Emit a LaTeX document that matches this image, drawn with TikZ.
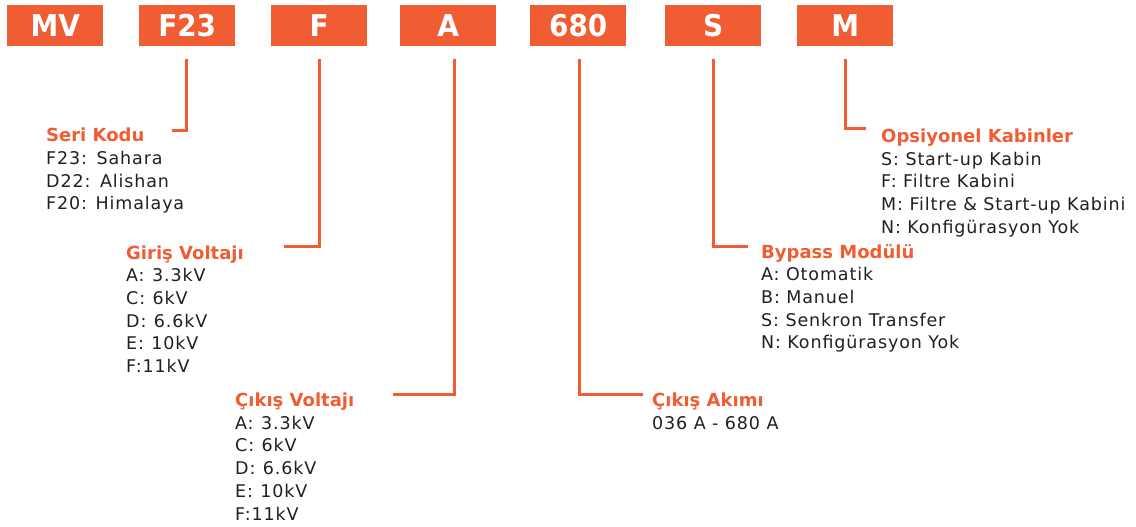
\documentclass[tikz,border=0pt]{standalone}
\usepackage{fontspec}
\setmainfont{DejaVu Sans}[LetterSpace=5]
\newfontfamily\boxfont{DejaVu Sans}[FakeStretch=0.93]
\newfontfamily\ttlfont{DejaVu Sans}
\definecolor{org}{HTML}{F15D33}
\definecolor{txt}{HTML}{231F20}
\tikzset{
  codebox/.style={fill=org, anchor=north west, minimum width=96pt, minimum height=41pt, inner sep=0pt, text=white, font=\boxfont\bfseries\fontsize{30}{32}\selectfont},
  conn/.style={draw=org, line width=3pt},
  ttl/.style={anchor=base west, inner sep=0pt, text=org, font=\ttlfont\bfseries\fontsize{18}{20}\selectfont},
  itm/.style={anchor=base west, inner sep=0pt, text=txt, font=\fontsize{17.5}{20}\selectfont},
}
\newcommand{\gp}{\hspace{1pt}}
\begin{document}
\begin{tikzpicture}[x=1pt,y=-1pt]
\useasboundingbox (0,0) rectangle (1136,527);
% code boxes
\node[codebox] (mv)  at (7,5)   {MV};
\node[codebox] (f23) at (139,5) {F23};
\node[codebox] (f)   at (271,5) {F};
\node[codebox] (a)   at (400,5) {A};
\node[codebox] (amp) at (530,5) {680};
\node[codebox] (s)   at (665,5) {S};
\node[codebox] (m)   at (797,5) {M};
% end coordinates of connectors
\coordinate (e1) at (172,130);
\coordinate (e2) at (284,246);
\coordinate (e3) at (393,394);
\coordinate (e4) at (643,394);
\coordinate (e5) at (748,246);
\coordinate (e6) at (866,128);
\draw[conn] ([xshift=-1pt,yshift=-13pt]f23.south) |- (e1);
\draw[conn] ([xshift=0pt,yshift=-13pt]f.south) |- (e2);
\draw[conn] ([xshift=6pt,yshift=-13pt]a.south) |- (e3);
\draw[conn] ([xshift=1pt,yshift=-13pt]amp.south) |- (e4);
\draw[conn] ([xshift=0pt,yshift=-13pt]s.south) |- (e5);
\draw[conn] ([xshift=0pt,yshift=-13pt]m.south) |- (e6);
% Seri Kodu
\node[ttl] (t1) at (46,141.7) {Seri Kodu};
\node[itm] (t1a) at (46,164.4) {F23:\gp{} Sahara};
\node[itm] (t1b) at (46,187.1) {D22:\gp{} Alishan};
\node[itm] (t1c) at (46,209.8) {F20: Himalaya};
% Giris Voltaji
\node[ttl] (t2) at (126,259) {Giriş Voltajı};
\node[itm] (t2a) at (126,281.7) {A:\gp{} 3.3kV};
\node[itm] (t2b) at (126,304.4) {C:\gp{} 6kV};
\node[itm] (t2c) at (126,327.1) {D:\gp{} 6.6kV};
\node[itm] (t2d) at (126,349.8) {E:\gp{} 10kV};
\node[itm] (t2e) at (126,372.5) {F:11kV};
% Cikis Voltaji
\node[ttl] (t3) at (235,406.5) {Çıkış Voltajı};
\node[itm] (t3a) at (235,429.2) {A:\gp{} 3.3kV};
\node[itm] (t3b) at (235,451.9) {C:\gp{} 6kV};
\node[itm] (t3c) at (235,474.6) {D:\gp{} 6.6kV};
\node[itm] (t3d) at (235,497.3) {E:\gp{} 10kV};
\node[itm] (t3e) at (235,520) {F:11kV};
% Cikis Akimi
\node[ttl] (t4) at (652,406.5) {Çıkış Akımı};
\node[itm] (t4a) at (652,429.2) {036 A - 680 A};
% Bypass
\node[ttl] (t5) at (761,258) {Bypass Modülü};
\node[itm] (t5a) at (761,280.7) {A: Otomatik};
\node[itm] (t5b) at (761,303.4) {B: Manuel};
\node[itm] (t5c) at (761,326.1) {S: Senkron Transfer};
\node[itm] (t5d) at (761,348.8) {N: Konfigürasyon Yok};
% Opsiyonel
\node[ttl] (t6) at (881,142.3) {Opsiyonel Kabinler};
\node[itm] (t6a) at (881,165) {S: Start-up Kabin};
\node[itm] (t6b) at (881,187.7) {F: Filtre Kabini};
\node[itm] (t6c) at (881,210.4) {M: Filtre \& Start-up Kabini};
\node[itm] (t6d) at (881,233.1) {N: Konfigürasyon Yok};
\end{tikzpicture}
\end{document}
